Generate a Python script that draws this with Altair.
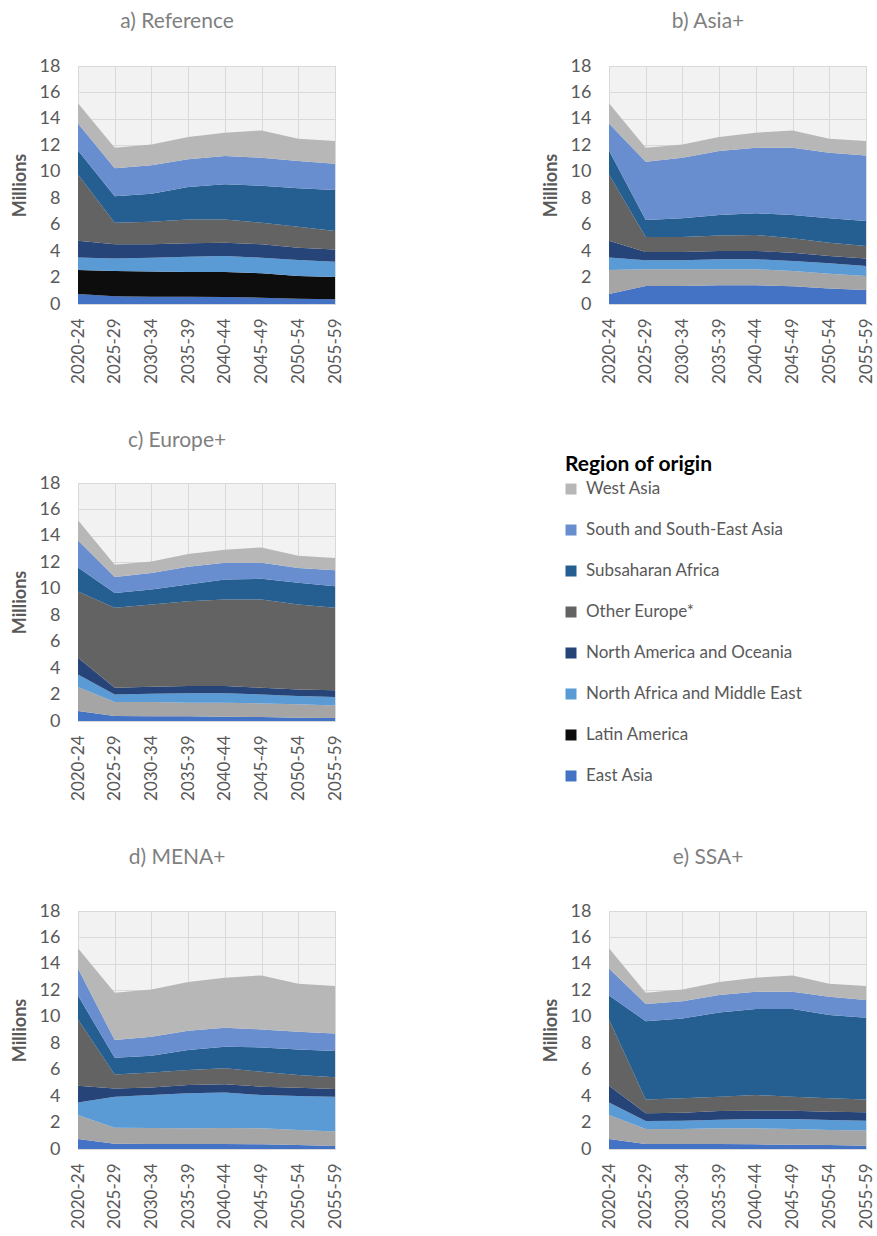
import altair as alt
import pandas as pd

FONT = "Lato"

periods = ["2020-24", "2025-29", "2030-34", "2035-39", "2040-44", "2045-49", "2050-54", "2055-59"]

# Regions in stacking order, bottom to top
regions = [
    "East Asia",
    "Latin America",
    "North Africa and Middle East",
    "North America and Oceania",
    "Other Europe*",
    "Subsaharan Africa",
    "South and South-East Asia",
    "West Asia",
]

# Millions of people by region of origin, one list per region
reference = {
    "East Asia":                    [0.75, 0.58, 0.55, 0.55, 0.53, 0.48, 0.40, 0.35],
    "Latin America":                [1.82, 1.92, 1.90, 1.87, 1.89, 1.84, 1.72, 1.69],
    "North Africa and Middle East": [0.95, 0.95, 1.05, 1.16, 1.21, 1.18, 1.21, 1.16],
    "North America and Oceania":    [1.26, 1.06, 1.01, 1.01, 1.01, 1.01, 0.93, 0.93],
    "Other Europe*":                [5.02, 1.64, 1.72, 1.81, 1.76, 1.64, 1.59, 1.39],
    "Subsaharan Africa":            [1.80, 1.99, 2.11, 2.45, 2.65, 2.80, 2.90, 3.10],
    "South and South-East Asia":    [2.05, 2.12, 2.15, 2.09, 2.14, 2.12, 2.06, 1.99],
    "West Asia":                    [1.53, 1.56, 1.58, 1.69, 1.77, 2.06, 1.69, 1.72],
}

asia_plus = {
    "East Asia":                    [0.75, 1.36, 1.36, 1.41, 1.41, 1.34, 1.18, 1.06],
    "Latin America":                [1.82, 1.26, 1.26, 1.21, 1.21, 1.16, 1.11, 1.06],
    "North Africa and Middle East": [0.95, 0.68, 0.68, 0.76, 0.76, 0.75, 0.79, 0.75],
    "North America and Oceania":    [1.26, 0.63, 0.63, 0.63, 0.63, 0.63, 0.55, 0.58],
    "Other Europe*":                [5.02, 1.14, 1.14, 1.18, 1.21, 1.09, 1.01, 0.94],
    "Subsaharan Africa":            [1.80, 1.28, 1.41, 1.54, 1.64, 1.76, 1.84, 1.89],
    "South and South-East Asia":    [2.05, 4.41, 4.59, 4.84, 4.96, 5.09, 4.96, 4.96],
    "West Asia":                    [1.53, 1.06, 1.00, 1.06, 1.14, 1.31, 1.06, 1.09],
}

europe_plus = {
    "East Asia":                    [0.75, 0.38, 0.35, 0.35, 0.33, 0.30, 0.25, 0.23],
    "Latin America":                [1.82, 1.06, 1.09, 1.03, 1.05, 1.03, 1.01, 0.95],
    "North Africa and Middle East": [0.95, 0.57, 0.62, 0.71, 0.71, 0.68, 0.63, 0.63],
    "North America and Oceania":    [1.26, 0.51, 0.53, 0.55, 0.55, 0.51, 0.50, 0.51],
    "Other Europe*":                [5.02, 6.04, 6.22, 6.42, 6.55, 6.67, 6.42, 6.24],
    "Subsaharan Africa":            [1.80, 1.13, 1.13, 1.26, 1.51, 1.56, 1.64, 1.64],
    "South and South-East Asia":    [2.05, 1.21, 1.26, 1.34, 1.26, 1.21, 1.13, 1.20],
    "West Asia":                    [1.53, 0.92, 0.87, 0.97, 1.00, 1.17, 0.92, 0.93],
}

mena_plus = {
    "East Asia":                    [0.75, 0.40, 0.38, 0.38, 0.38, 0.35, 0.30, 0.23],
    "Latin America":                [1.82, 1.21, 1.21, 1.18, 1.21, 1.21, 1.14, 1.10],
    "North Africa and Middle East": [0.95, 2.34, 2.49, 2.65, 2.69, 2.52, 2.56, 2.62],
    "North America and Oceania":    [1.26, 0.63, 0.58, 0.63, 0.61, 0.63, 0.63, 0.58],
    "Other Europe*":                [5.02, 1.06, 1.13, 1.13, 1.21, 1.13, 0.96, 0.89],
    "Subsaharan Africa":            [1.80, 1.26, 1.26, 1.51, 1.63, 1.84, 1.94, 1.99],
    "South and South-East Asia":    [2.05, 1.34, 1.44, 1.46, 1.44, 1.36, 1.34, 1.33],
    "West Asia":                    [1.53, 3.58, 3.58, 3.69, 3.79, 4.09, 3.63, 3.59],
}

ssa_plus = {
    "East Asia":                    [0.75, 0.38, 0.38, 0.38, 0.35, 0.33, 0.30, 0.25],
    "Latin America":                [1.82, 1.13, 1.13, 1.18, 1.21, 1.18, 1.14, 1.14],
    "North Africa and Middle East": [0.95, 0.61, 0.63, 0.66, 0.71, 0.76, 0.75, 0.75],
    "North America and Oceania":    [1.26, 0.58, 0.61, 0.65, 0.63, 0.63, 0.63, 0.63],
    "Other Europe*":                [5.02, 1.05, 1.08, 1.08, 1.18, 1.05, 1.01, 0.98],
    "Subsaharan Africa":            [1.80, 5.92, 6.04, 6.38, 6.50, 6.63, 6.30, 6.17],
    "South and South-East Asia":    [2.05, 1.29, 1.31, 1.31, 1.31, 1.31, 1.38, 1.34],
    "West Asia":                    [1.53, 0.86, 0.89, 0.99, 1.07, 1.24, 0.99, 1.07],
}

palette = {
    "East Asia": "#4472C4",
    "Latin America": "#0D0D0D",
    "North Africa and Middle East": "#5B9BD5",
    "North America and Oceania": "#264478",
    "Other Europe*": "#636363",
    "Subsaharan Africa": "#255E91",
    "South and South-East Asia": "#698ED0",
    "West Asia": "#B7B7B7",
}
# the scenario panels draw Latin America in mid grey
scenario_palette = dict(palette, **{"Latin America": "#A5A5A5"})

TITLE_GREY = "#7F7F7F"
AXIS_GREY = "#595959"
GRID = "#D9D9D9"


def to_table(series, colours):
    rows = []
    for rank, region in enumerate(regions):
        for period, value in zip(periods, series[region]):
            rows.append({"period": period, "region": region, "rank": rank,
                         "value": value, "fill": colours[region]})
    return pd.DataFrame(rows)


def panel(title, series, colours, title_offset):
    return alt.Chart(to_table(series, colours)).mark_area(opacity=1).encode(
        x=alt.X("period:O", sort=periods,
                scale=alt.Scale(type="point", padding=0),
                axis=alt.Axis(title=None, labelAngle=270, grid=True,
                              labelPadding=14, labelFontSize=17)),
        y=alt.Y("value:Q", stack="zero",
                scale=alt.Scale(domain=[0, 18], nice=False),
                axis=alt.Axis(title="Millions", values=list(range(0, 19, 2)),
                              labelFontSize=18, labelPadding=18,
                              titleFontSize=18, titleFontWeight="bold",
                              titlePadding=10)),
        color=alt.Color("fill:N", scale=None),
        detail="region:N",
        order=alt.Order("rank:Q"),
    ).properties(
        width=257, height=238,
        view=alt.ViewBackground(fill="#F2F2F2", stroke=GRID, strokeWidth=1),
        title=alt.TitleParams(title, fontSize=21, color=TITLE_GREY, font=FONT,
                              fontWeight="normal", anchor="middle",
                              frame="bounds", offset=title_offset),
    )


chart_a = panel("a) Reference", reference, palette, 25)
chart_b = panel("b) Asia+", asia_plus, scenario_palette, 25)
chart_c = panel("c) Europe+", europe_plus, scenario_palette, 23)
chart_d = panel("d) MENA+", mena_plus, scenario_palette, 34)
chart_e = panel("e) SSA+", ssa_plus, scenario_palette, 34)

# Legend: listed top to bottom in the reverse of the stacking order
legend_order = list(reversed(regions))
legend_df = pd.DataFrame({"region": legend_order,
                          "fill": [palette[r] for r in legend_order]})
legend_base = alt.Chart(legend_df).encode(
    y=alt.Y("region:N", sort=legend_order,
            scale=alt.Scale(type="point", padding=0.147), axis=None)
)
legend_marks = legend_base.mark_square(size=121, opacity=1).encode(
    x=alt.value(6), color=alt.Color("fill:N", scale=None)
)
legend_text = legend_base.mark_text(align="left", baseline="middle",
                                    fontSize=17, font=FONT, color=AXIS_GREY).encode(
    x=alt.value(21), text="region:N"
)
legend = (legend_marks + legend_text).properties(
    width=290, height=299,
    view=alt.ViewBackground(stroke="transparent"),
    title=alt.TitleParams("Region of origin", fontSize=21, font=FONT,
                          fontWeight="bold", color="#000000",
                          anchor="start", offset=5),
)

row1 = alt.hconcat(chart_a, chart_b, spacing=197)
row2 = alt.hconcat(chart_c, legend, spacing=220)
row3 = alt.hconcat(chart_d, chart_e, spacing=197)

chart = alt.vconcat(row1, row2, row3, spacing=45).properties(
    padding={"left": 10, "top": 10, "right": 0, "bottom": 0}
).configure(
    font=FONT
).configure_axis(
    labelFont=FONT, titleFont=FONT,
    labelColor=AXIS_GREY, titleColor=AXIS_GREY,
    gridColor=GRID, gridWidth=1,
    domain=False, ticks=False,
)

chart.save("out.html", embed_options={"renderer": "svg", "actions": False})
